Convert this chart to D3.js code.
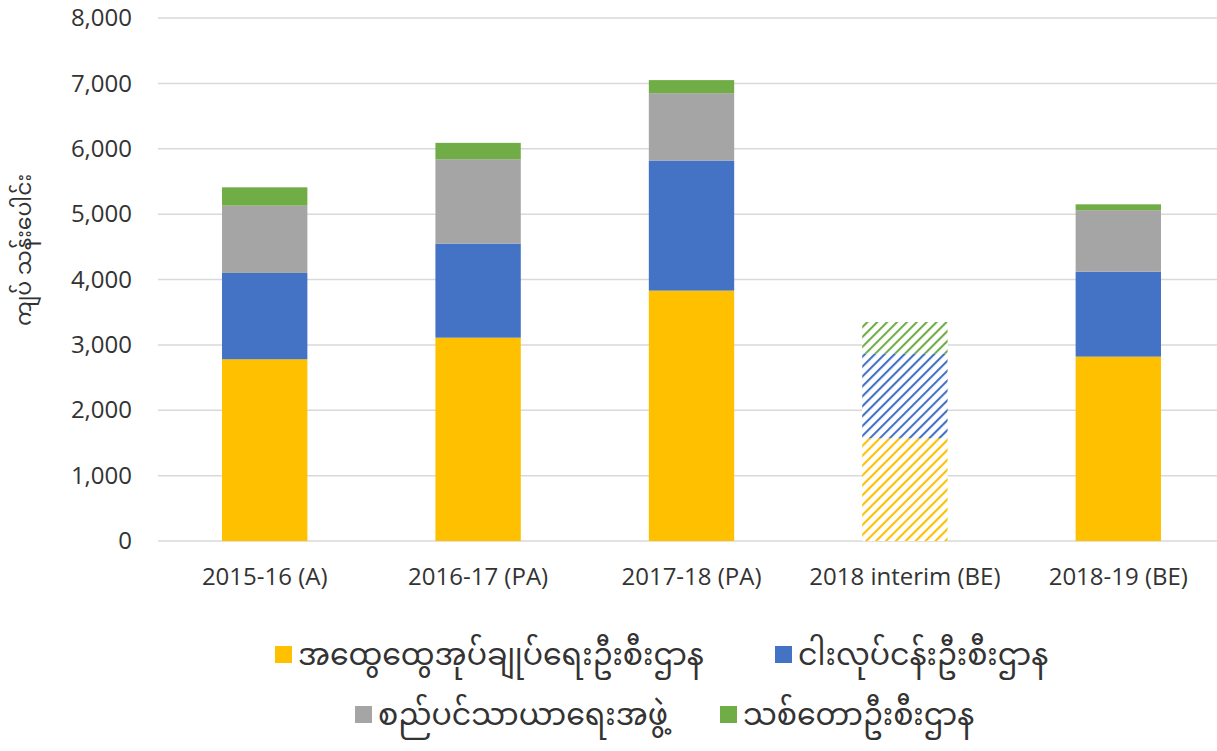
<!DOCTYPE html>
<html lang="my">
<head>
<meta charset="utf-8">
<script src="https://d3js.org/d3.v7.min.js"></script>
<style>
  body { margin: 0; background: #fff; }
  svg text { font-family: "Open Sans", "Noto Sans", "DejaVu Sans", sans-serif; }
  .mm { font-family: "Noto Sans Myanmar", "Padauk", "Myanmar Text", "Noto Sans", sans-serif; }
</style>
</head>
<body>
<svg width="1217" height="751"></svg>
<script>
// data (million kyat)
const years = ["2015-16 (A)", "2016-17 (PA)", "2017-18 (PA)", "2018 interim (BE)", "2018-19 (BE)"];
const seriesNames = ["အထွေထွေအုပ်ချုပ်ရေးဦးစီးဌာန", "ငါးလုပ်ငန်းဦးစီးဌာန", "စည်ပင်သာယာရေးအဖွဲ့", "သစ်တောဦးစီးဌာန"];
const generalAdmin = [2780, 3110, 3830, 1570, 2820];
const fisheries = [1320, 1440, 1990, 1300, 1300];
const municipal = [1030, 1290, 1030, 0, 940];
const forestry = [280, 250, 200, 480, 90];
const yTicks = [0, 1000, 2000, 3000, 4000, 5000, 6000, 7000, 8000];
const hatchedYear = "2018 interim (BE)";
const colors = ["#FFC000", "#4472C4", "#A5A5A5", "#70AD47"];

const svg = d3.select("svg");
const margin = { left: 158, right: 1225, top: 18, bottom: 541 };

const rows = years.map((y, i) => ({
  year: y,
  s0: generalAdmin[i], s1: fisheries[i], s2: municipal[i], s3: forestry[i]
}));
const keys = ["s0", "s1", "s2", "s3"];
const stacked = d3.stack().keys(keys)(rows);

const x = d3.scaleBand().domain(years).range([margin.left, margin.right]).paddingInner(0.6).paddingOuter(0.3);
const y = d3.scaleLinear().domain([0, 8000]).range([margin.bottom, margin.top]);

// hatch patterns for the interim bar
const defs = svg.append("defs");
colors.forEach((c, i) => {
  const p = defs.append("pattern")
    .attr("id", "hatch" + i)
    .attr("patternUnits", "userSpaceOnUse")
    .attr("width", 7).attr("height", 7)
    .attr("patternTransform", "rotate(45)");
  p.append("rect").attr("width", 7).attr("height", 7).attr("fill", "#fff");
  p.append("line").attr("x1", 0).attr("y1", 0).attr("x2", 0).attr("y2", 7)
    .attr("stroke", c).attr("stroke-width", 4.2);
});

// gridlines
svg.append("g")
  .selectAll("line")
  .data(yTicks)
  .join("line")
  .attr("x1", margin.left).attr("x2", 1217)
  .attr("y1", d => y(d)).attr("y2", d => y(d))
  .attr("stroke", "#d9d9d9").attr("stroke-width", 1.5);

// y axis labels
const yAxis = svg.append("g")
  .attr("transform", `translate(${margin.left},0)`)
  .call(d3.axisLeft(y).tickValues(yTicks).tickFormat(d3.format(",")).tickSize(0).tickPadding(26));
yAxis.select(".domain").remove();
yAxis.selectAll("text").attr("fill", "#333").style("font-size", "24px");

// bars
svg.append("g")
  .selectAll("g")
  .data(stacked)
  .join("g")
  .selectAll("rect")
  .data((d, i) => d.map(v => ({ v, i })))
  .join("rect")
  .attr("x", d => x(d.v.data.year))
  .attr("width", x.bandwidth())
  .attr("y", d => y(d.v[1]))
  .attr("height", d => y(d.v[0]) - y(d.v[1]))
  .attr("fill", d => d.v.data.year === hatchedYear ? `url(#hatch${d.i})` : colors[d.i]);

// x axis labels
const xAxis = svg.append("g")
  .attr("transform", `translate(0,${margin.bottom})`)
  .call(d3.axisBottom(x).tickSize(0).tickPadding(27));
xAxis.select(".domain").remove();
xAxis.selectAll("text").attr("fill", "#333").style("font-size", "24px");

// y axis title
svg.append("text")
  .attr("class", "mm")
  .attr("transform", "translate(31,250) rotate(-90)")
  .attr("text-anchor", "middle")
  .attr("fill", "#333")
  .style("font-size", "22px")
  .text("ကျပ် သန်းပေါင်း");

// legend
const legendPos = [[275, 654], [775, 654], [355, 714], [720, 714]];
const legend = svg.append("g")
  .selectAll("g")
  .data(seriesNames)
  .join("g")
  .attr("transform", (d, i) => `translate(${legendPos[i][0]},${legendPos[i][1]})`);
legend.append("rect")
  .attr("x", 0).attr("y", -8).attr("width", 17).attr("height", 17)
  .attr("fill", (d, i) => colors[i]);
legend.append("text")
  .attr("class", "mm")
  .attr("x", 23).attr("y", 0)
  .attr("dy", "0.35em")
  .attr("fill", "#333")
  .style("font-size", "30px")
  .text(d => d);
</script>
</body>
</html>
